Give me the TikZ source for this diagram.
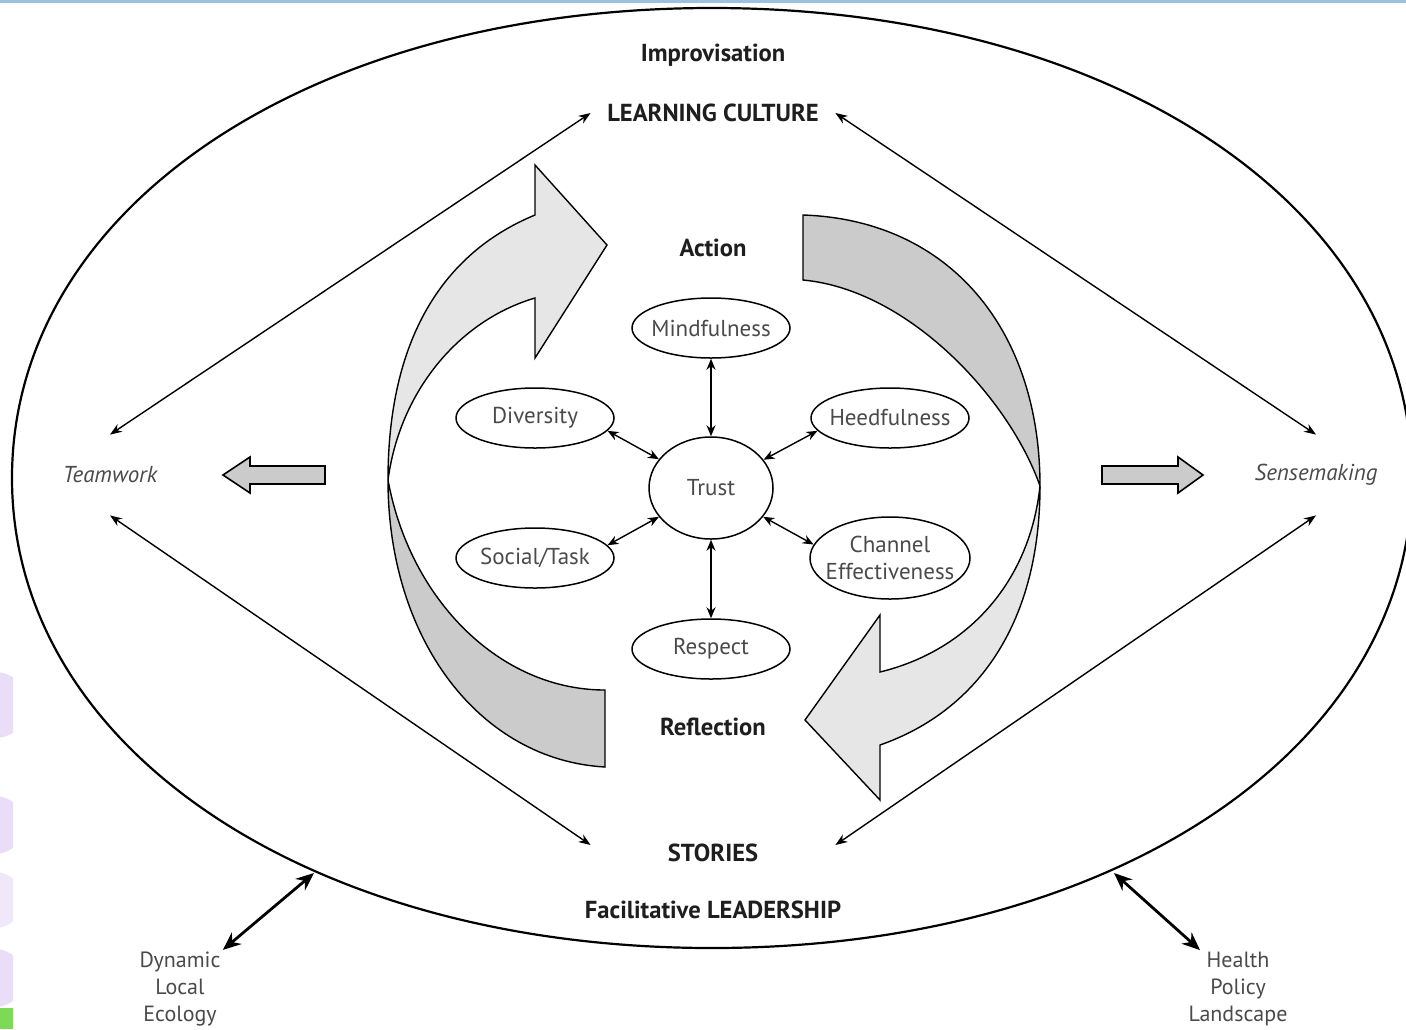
\documentclass[tikz,border=0pt]{standalone}
\usepackage{fontspec}
\setmainfont{PT Sans}
\usetikzlibrary{shapes.geometric,arrows.meta}
\definecolor{lightg}{HTML}{E6E6E6}
\definecolor{darkg}{HTML}{CBCBCB}
\definecolor{txtg}{HTML}{4A4A4A}
\definecolor{txtk}{HTML}{1E1E1E}
\definecolor{topblue}{HTML}{9DBFE0}
\definecolor{blob}{HTML}{E9DDF7}
\definecolor{greenbar}{HTML}{7DD956}
\begin{document}
\begin{tikzpicture}[x=0.5pt,y=-0.5pt,
  sat/.style={ellipse,draw=black,line width=0.75pt,fill=white,inner xsep=-5pt,inner ysep=0pt,minimum width=79pt,minimum height=30pt,text=txtg,font=\fontsize{11.5}{13.5}\selectfont,align=center},
  lab/.style={text=txtk,font=\bfseries\fontsize{12.3}{14}\selectfont,inner sep=0pt},
  side/.style={text=txtg,font=\itshape\fontsize{11.5}{13}\selectfont,minimum height=40pt,inner sep=0pt},
  outer/.style={text=txtg,font=\fontsize{11}{13.3}\selectfont,align=center,inner sep=1pt},
  spoke/.style={line width=0.7pt,{Stealth[length=5.5pt,width=4.5pt]}-{Stealth[length=5.5pt,width=4.5pt]}},
  longarr/.style={line width=0.7pt,{Stealth[length=6pt,width=4.5pt]}-{Stealth[length=6pt,width=4.5pt]}},
  thickarr/.style={line width=1.4pt,{Stealth[length=9pt,width=7.5pt]}-{Stealth[length=9pt,width=7.5pt]}},
  ribbon/.style={draw=black,line width=0.7pt,line join=miter},
  blockarr/.style={draw=black,line width=0.8pt,fill=darkg}
]
\useasboundingbox (0,0) rectangle (1406,1029);
\fill[white] (0,0) rectangle (1406,1029);
\fill[topblue] (0,0) rectangle (1406,3);
\begin{scope}
  \clip (0,0) rectangle (13,1029);
  \fill[blob] (-5,705) circle[radius=33];
  \fill[blob] (-5,825) circle[radius=29];
  \fill[blob!70!white] (-5,900) circle[radius=28];
  \fill[blob] (-5,978) circle[radius=29];
  \fill[greenbar] (0,1008) rectangle (13,1029);
\end{scope}

% outer ellipse
\draw[line width=1.1pt] (1412,478) .. controls (1412,748.25) and (1114.5,948) .. (712,948)
  .. controls (309.5,948) and (12,748.25) .. (12,478)
  .. controls (12,207.75) and (309.5,8) .. (712,8)
  .. controls (1114.5,8) and (1412,207.75) .. (1412,478) -- cycle;

% ribbons
\filldraw[ribbon,fill=darkg] (388,480) .. controls (388,640) and (480,760) .. (605,767) -- (605,690) .. controls (500,690) and (410,600) .. (388,480) -- cycle;
\filldraw[ribbon,fill=lightg] (388,480) .. controls (388,330) and (450,250) .. (535,215) -- (535,165) -- (607,245) -- (535,358) -- (535,298) .. controls (460,320) and (400,390) .. (388,480) -- cycle;
\filldraw[ribbon,fill=darkg] (803,215) .. controls (950,220) and (1040,330) .. (1040,486) .. controls (1010,400) and (910,290) .. (803,280) -- cycle;
\filldraw[ribbon,fill=lightg] (1040,486) .. controls (1040,620) and (980,710) .. (880,745) -- (880,800) -- (805,720) -- (880,615) -- (880,672) .. controls (970,650) and (1030,580) .. (1040,486) -- cycle;

% block arrows
\filldraw[blockarr] (325,466) -- (250,466) -- (250,457) -- (223,475) -- (250,493) -- (250,484) -- (325,484) -- cycle;
\filldraw[blockarr] (1102,466) -- (1178,466) -- (1178,457) -- (1203,475) -- (1178,493) -- (1178,484) -- (1102,484) -- cycle;

% labels
\node[lab] (imp) at (713,55) {Improvisation};
\node[lab,minimum width=122pt] (lc) at (713,113) {LEARNING CULTURE};
\node[lab] (act) at (713,248) {Action};
\node[lab] (refl) at (713,727) {Reflection};
\node[lab,minimum width=122pt] (st) at (713,853) {STORIES};
\node[lab] (fl) at (713,910) {Facilitative LEADERSHIP};
\node[side] (tw) at (110,475) {Teamwork};
\node[side] (sm) at (1316,475) {Sensemaking};
\node[outer] (dle) at (180,989) {Dynamic\\Local\\Ecology};
\node[outer] (hpl) at (1238,989) {Health\\Policy\\Landscape};

% satellites
\node[sat,inner xsep=0pt,minimum width=62pt,minimum height=51pt] (trust) at (711,488) {Trust};
\node[sat] (mind) at (711,328) {Mindfulness};
\node[sat] (resp) at (711,649) {Respect};
\node[sat] (div) at (535,418) {Diversity};
\node[sat] (soc) at (535,558) {Social/Task};
\node[sat] (heed) at (890,418) {Heedfulness};
\node[sat,inner xsep=-6pt,minimum width=80pt,minimum height=41pt] (chan) at (890,558) {Channel\\Effectiveness};

% spokes
\draw[spoke] (trust) -- (mind);
\draw[spoke] (trust) -- (resp);
\draw[spoke] (div.-10) -- (trust);
\draw[spoke] (soc.10) -- (trust);
\draw[spoke] (heed.190) -- (trust);
\draw[spoke] (chan.170) -- (trust);

% long arrows
\draw[longarr] (lc.west) -- (tw.north);
\draw[longarr] (lc.east) -- (sm.north);
\draw[longarr] ([yshift=4pt]st.west) -- (tw.south);
\draw[longarr] ([yshift=4pt]st.east) -- (sm.south);

% outside arrows
\coordinate (eL) at (314,873);
\coordinate (eR) at (1114,873);
\draw[thickarr] (eL) -- (dle.north east);
\draw[thickarr] (eR) -- ([xshift=-19pt]hpl.north);
\end{tikzpicture}
\end{document}
